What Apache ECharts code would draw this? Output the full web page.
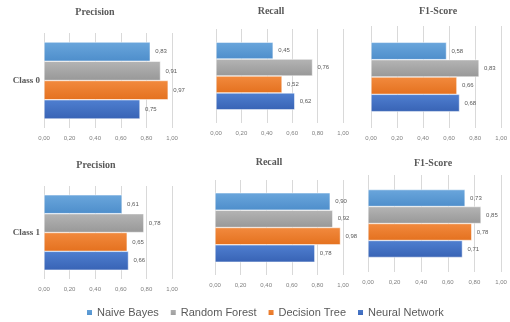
<!DOCTYPE html>
<html>
<head>
<meta charset="utf-8">
<script src="https://cdn.jsdelivr.net/npm/echarts@6/dist/echarts.min.js"></script>
<style>
  html, body { margin: 0; padding: 0; background: #fff; }
  #chart { width: 510px; height: 322px; }
</style>
</head>
<body>
<div id="chart"></div>
<script>
// series names (legend order)
const models = ['Naive Bayes', 'Random Forest', 'Decision Tree', 'Neural Network']
const classes = ['Class 0', 'Class 1']
const metrics = ['Precision', 'Recall', 'F1-Score']

// values per model, one array per panel
const precisionClass0 = [0.83, 0.91, 0.97, 0.75]
const recallClass0 = [0.45, 0.76, 0.52, 0.62]
const f1Class0 = [0.58, 0.83, 0.66, 0.68]
const precisionClass1 = [0.61, 0.78, 0.65, 0.66]
const recallClass1 = [0.90, 0.92, 0.98, 0.78]
const f1Class1 = [0.73, 0.85, 0.78, 0.71]

const colors = [
  ['#6AA6DC', '#4E8ECB'],
  ['#B4B4B4', '#989898'],
  ['#F28A3E', '#E4711F'],
  ['#4F7FD0', '#3863B5'],
]

// panel layout: grid box, bar gap, title centre
const panels = [
  { data: precisionClass0, cls: 0, metric: 0, left: 44, width: 128, top: 33, height: 95, gap: '19%', tx: 95, ty: 7 },
  { data: recallClass0, cls: 0, metric: 1, left: 216, width: 127, top: 29, height: 94, gap: '28%', tx: 271, ty: 6 },
  { data: f1Class0, cls: 0, metric: 2, left: 371, width: 136, top: 26, height: 102, gap: '32%', tx: 438, ty: 6 },
  { data: precisionClass1, cls: 1, metric: 0, left: 44, width: 128, top: 186, height: 93, gap: '19%', tx: 96, ty: 160 },
  { data: recallClass1, cls: 1, metric: 1, left: 215, width: 128, top: 180, height: 95, gap: '27%', tx: 269, ty: 157 },
  { data: f1Class1, cls: 1, metric: 2, left: 368, width: 133, top: 175, height: 97, gap: '30%', tx: 433, ty: 158 },
]

const fmt = (v) => v.toFixed(2).replace('.', ',')

const chart = echarts.init(document.getElementById('chart'))

const grid = panels.map((p) => ({ left: p.left, top: p.top, width: p.width, height: p.height }))

const xAxis = panels.map((p, i) => ({
  type: 'value',
  gridIndex: i,
  min: 0,
  max: 1,
  interval: 0.2,
  axisLine: { show: false },
  axisTick: { show: false },
  axisLabel: {
    fontSize: 6,
    color: '#7f7f7f',
    margin: 7,
    fontFamily: 'Liberation Sans',
    formatter: (v) => fmt(v),
  },
  splitLine: { lineStyle: { color: '#d9d9d9', width: 1 } },
}))

const yAxis = panels.map((p, i) => ({
  type: 'category',
  gridIndex: i,
  inverse: true,
  data: [classes[p.cls]],
  axisLine: { show: false },
  axisTick: { show: false },
  axisLabel: {
    show: p.metric === 0,
    fontSize: 9,
    fontWeight: 'bold',
    fontFamily: 'Liberation Serif',
    color: '#595959',
    margin: 4,
  },
}))

const title = panels.map((p) => ({
  text: metrics[p.metric],
  left: p.tx,
  top: p.ty,
  padding: 0,
  textAlign: 'center',
  textStyle: {
    fontSize: 10,
    fontWeight: 'bold',
    fontFamily: 'Liberation Serif',
    color: '#595959',
  },
}))

const series = []
panels.forEach((p, i) => {
  models.forEach((m, k) => {
    series.push({
      name: m,
      type: 'bar',
      xAxisIndex: i,
      yAxisIndex: i,
      barGap: '0%',
      barCategoryGap: p.gap,
      data: [p.data[k]],
      itemStyle: {
        color: new echarts.graphic.LinearGradient(0, 0, 0, 1, [
          { offset: 0, color: colors[k][0] },
          { offset: 1, color: colors[k][1] },
        ]),
        borderColor: '#ffffff',
        borderWidth: 0.5,
      },
      label: {
        show: true,
        position: 'right',
        distance: 5,
        fontSize: 6,
        color: '#595959',
        fontFamily: 'Liberation Sans',
        formatter: (d) => fmt(d.value),
      },
    })
  })
})

chart.setOption({
  animation: false,
  color: colors.map((c) => c[0]),
  title,
  grid,
  xAxis,
  yAxis,
  legend: {
    data: models,
    top: 307,
    left: 85,
    padding: 0,
    itemWidth: 7,
    itemHeight: 7,
    itemGap: 10,
    icon: 'rect',
    textStyle: { fontSize: 11, color: '#595959', fontFamily: 'Liberation Sans', padding: [0, 0, 0, -1] },
  },
  series,
})
</script>
</body>
</html>
